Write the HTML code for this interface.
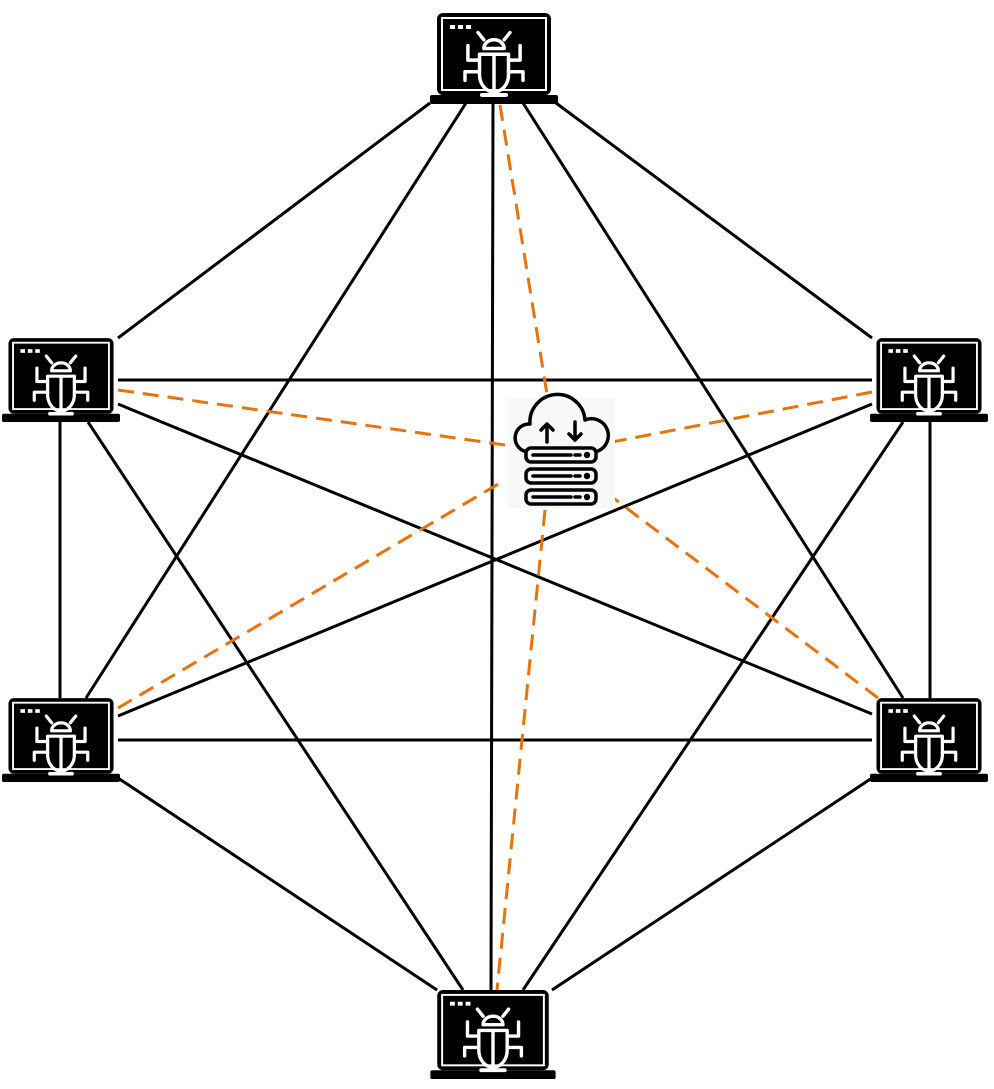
<!DOCTYPE html>
<html><head><meta charset="utf-8"><style>html,body{margin:0;padding:0;background:#fff}svg{display:block}</style></head>
<body>
<svg width="994" height="1089" viewBox="0 0 994 1089" xmlns="http://www.w3.org/2000/svg">
<defs>
<symbol id="lap" viewBox="0 0 128 92">
  <rect x="7" y="0" width="114" height="82" rx="6" fill="#000"/>
  <rect x="12" y="5" width="104" height="72" fill="none" stroke="#fff" stroke-width="2"/>
  <rect x="0" y="82" width="128" height="9" rx="2" fill="#000"/>
  <rect x="50" y="80" width="28" height="4" rx="2" fill="#fff"/>
  <rect x="20" y="12" width="5" height="4" fill="#fff"/><rect x="28" y="12" width="5" height="4" fill="#fff"/><rect x="36" y="12" width="5" height="4" fill="#fff"/>
  <g fill="none" stroke="#fff" stroke-width="2.4" stroke-linecap="round" stroke-linejoin="round" transform="translate(64,50) scale(1.45) translate(-64,-50)">
    <path d="M57 40 a7 6 0 0 1 14 0 z"/>
    <path d="M54 44 h20 v14 a10 12 0 0 1 -20 0 z"/>
    <line x1="64" y1="44" x2="64" y2="68"/>
    <path d="M54 48 h-8 v-10 M74 48 h8 v-10"/>
    <path d="M54 56 h-10 v6 M74 56 h10 v6"/>
    <path d="M57 34 l-4 -5 M71 34 l4 -5"/>
  </g>
</symbol>
</defs>
<g stroke="#000" stroke-width="3" fill="none">
  <line x1="430" y1="103" x2="118" y2="338"/>
  <line x1="466" y1="103" x2="86" y2="698"/>
  <line x1="493" y1="103" x2="491" y2="990"/>
  <line x1="523" y1="103" x2="903" y2="698"/>
  <line x1="556" y1="103" x2="872" y2="338"/>
  <line x1="118" y1="380" x2="872" y2="380"/>
  <line x1="118" y1="404" x2="872" y2="714"/>
  <line x1="60" y1="422" x2="60" y2="698"/>
  <line x1="88" y1="422" x2="463" y2="990"/>
  <line x1="872" y1="404" x2="118" y2="716"/>
  <line x1="903" y1="422" x2="523" y2="990"/>
  <line x1="930" y1="422" x2="930" y2="698"/>
  <line x1="118" y1="740" x2="872" y2="740"/>
  <line x1="118" y1="778" x2="437" y2="990"/>
  <line x1="872" y1="778" x2="552" y2="990"/>
</g>
<g stroke="#e8720c" stroke-width="3" fill="none" stroke-dasharray="16 9">
  <line x1="500" y1="105" x2="552" y2="425"/>
  <line x1="545" y1="510" x2="497" y2="990"/>
  <line x1="118" y1="390" x2="505" y2="445"/>
  <line x1="872" y1="392" x2="612" y2="442"/>
  <line x1="118" y1="708" x2="505" y2="480"/>
  <line x1="878" y1="698" x2="612" y2="497"/>
</g>
<rect x="507" y="398" width="108" height="110" fill="#f7f8fa"/>
<g fill="none" stroke="#000" stroke-width="3.5" stroke-linecap="round" stroke-linejoin="round">
  <path d="M524 451 A14 14 0 0 1 530 424 A27 27 0 0 1 585 420 A15 15 0 0 1 598 451"/>
  <path d="M547 442 v-18 M541 430 l6 -6 l6 6"/>
  <path d="M575 422 v18 M569 434 l6 6 l6 -6"/>
  <rect x="526" y="448" width="70" height="14" rx="5"/>
  <rect x="526" y="469" width="70" height="14" rx="5"/>
  <rect x="526" y="490" width="70" height="14" rx="5"/>
  <path d="M533 455 h38 M575 455 h5 M533 476 h38 M575 476 h5 M533 497 h38 M575 497 h5"/>
</g>
<g fill="#000"><circle cx="587" cy="455" r="3.2"/><circle cx="587" cy="476" r="3.2"/><circle cx="587" cy="497" r="3.2"/></g>
<use href="#lap" x="430" y="13" width="128" height="92"/>
<use href="#lap" x="2" y="338" width="118" height="85"/>
<use href="#lap" x="870" y="338" width="118" height="85"/>
<use href="#lap" x="2" y="698" width="118" height="85"/>
<use href="#lap" x="870" y="698" width="118" height="85"/>
<use href="#lap" x="430" y="990" width="126" height="90"/>
</svg>
</body></html>
